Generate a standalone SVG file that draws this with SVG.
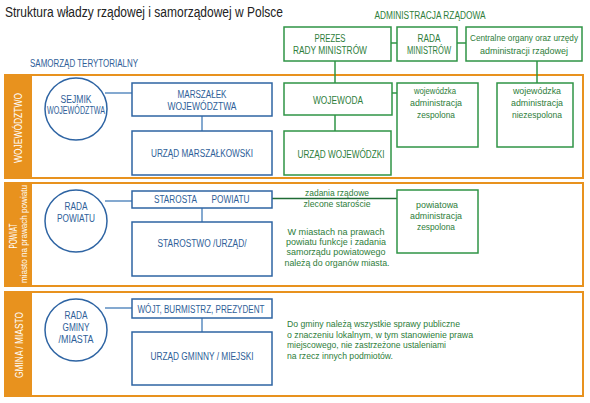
<svg xmlns="http://www.w3.org/2000/svg" width="590" height="403" viewBox="0 0 590 403">
<style>
text{font-family:"Liberation Sans",Arial,sans-serif}
.sec{fill:#fff;stroke:#E8921E;stroke-width:2}
.strip{fill:#E8921E}
.side{fill:#fff;font-size:10px;text-anchor:middle}
.sideS{fill:#fff;font-size:8.5px;text-anchor:middle}
.bb{fill:#fff;stroke:#2E64A3;stroke-width:1.5}
.gb{fill:#fff;stroke:#2F9446;stroke-width:1.5}
.bt{fill:#2E5E98;font-size:10px;text-anchor:middle}
.gt{fill:#2E7D3A;font-size:10px;text-anchor:middle}
.gs{fill:#2E7D3A;font-size:9.5px;text-anchor:middle}
.gl{fill:#2E7D3A;font-size:9.5px}
.bc{stroke:#5B8CC0;stroke-width:1.5;fill:none}
.gc{stroke:#2F9446;stroke-width:1.5;fill:none}
</style>
<rect width="590" height="403" fill="#fff"/>
<text x="5" y="17" font-size="14" fill="#222" textLength="278" lengthAdjust="spacingAndGlyphs">Struktura władzy rządowej i samorządowej w Polsce</text>
<text x="30" y="67" font-size="10" fill="#2E5E98" textLength="108" lengthAdjust="spacingAndGlyphs">SAMORZĄD TERYTORIALNY</text>
<text x="430" y="19" class="gt" textLength="111" lengthAdjust="spacingAndGlyphs">ADMINISTRACJA RZĄDOWA</text>

<g id="section-wojewodztwo">
<rect class="sec" x="5" y="75" width="578" height="103"/>
<rect class="strip" x="5" y="75" width="27" height="103"/>
<text class="side" transform="translate(22,128) rotate(-90)" textLength="70" lengthAdjust="spacingAndGlyphs">WOJEWÓDZTWO</text>
</g>
<g id="section-powiat">
<rect class="sec" x="5" y="183" width="578" height="103"/>
<rect class="strip" x="5" y="183" width="27" height="103"/>
<text class="side" transform="translate(17,236) rotate(-90)" textLength="25" lengthAdjust="spacingAndGlyphs">POWIAT</text>
<text class="sideS" transform="translate(27,234) rotate(-90)" textLength="98" lengthAdjust="spacingAndGlyphs">miasto na prawach powiatu</text>
</g>
<g id="section-gmina">
<rect class="sec" x="5" y="292" width="578" height="104"/>
<rect class="strip" x="5" y="292" width="27" height="104"/>
<text class="side" transform="translate(23,345) rotate(-90)" textLength="66" lengthAdjust="spacingAndGlyphs">GMINA / MIASTO</text>
</g>

<g id="connectors">
<line class="bc" x1="105" y1="93" x2="132" y2="93"/>
<line class="bc" x1="202" y1="116" x2="202" y2="131"/>
<line class="bc" x1="105" y1="201" x2="132" y2="201"/>
<line class="bc" x1="202" y1="208" x2="202" y2="222"/>
<line class="bc" x1="105" y1="308" x2="132" y2="308"/>
<line class="bc" x1="202" y1="318" x2="202" y2="332"/>
<line class="gc" x1="391" y1="43" x2="397" y2="43"/>
<line class="gc" x1="457" y1="43" x2="466" y2="43"/>
<line class="gc" x1="335" y1="61" x2="335" y2="83"/>
<line class="gc" x1="537" y1="61" x2="537" y2="83"/>
<line class="gc" x1="392" y1="93" x2="397" y2="93"/>
<line class="gc" x1="335" y1="115" x2="335" y2="131"/>
<line x1="272" y1="198.5" x2="397" y2="198.5" stroke="#1F6B34" stroke-width="1.5"/>
</g>

<g id="sejmik"><circle cx="76" cy="109" r="31" class="bb"/>
<text class="bt" x="76" y="103" textLength="31" lengthAdjust="spacingAndGlyphs">SEJMIK</text><text class="bt" x="76" y="114" textLength="58" lengthAdjust="spacingAndGlyphs">WOJEWÓDZTWA</text></g>
<g id="marszalek"><rect class="bb" x="132" y="83" width="140" height="33"/>
<text class="bt" x="202" y="98" textLength="49" lengthAdjust="spacingAndGlyphs">MARSZAŁEK</text><text class="bt" x="202" y="110" textLength="69" lengthAdjust="spacingAndGlyphs">WOJEWÓDZTWA</text></g>
<g id="urzad-marszalkowski"><rect class="bb" x="132" y="131" width="140" height="44"/>
<text class="bt" x="202" y="157" textLength="102" lengthAdjust="spacingAndGlyphs">URZĄD MARSZAŁKOWSKI</text></g>

<g id="prezes"><rect class="gb" x="284" y="27" width="107" height="34"/>
<text class="gt" x="330" y="41.5" textLength="31" lengthAdjust="spacingAndGlyphs">PREZES</text><text class="gt" x="330" y="54" textLength="74" lengthAdjust="spacingAndGlyphs">RADY MINISTRÓW</text></g>
<g id="rada-ministrow"><rect class="gb" x="397" y="27" width="60" height="34"/>
<text class="gt" x="429" y="41.5" textLength="23" lengthAdjust="spacingAndGlyphs">RADA</text><text class="gt" x="429" y="54" textLength="44" lengthAdjust="spacingAndGlyphs">MINISTRÓW</text></g>
<g id="centralne"><rect class="gb" x="466" y="27" width="116" height="34"/>
<text class="gs" x="524" y="41" font-size="8.5" textLength="108" lengthAdjust="spacingAndGlyphs">Centralne organy oraz urzędy</text><text class="gs" x="524" y="54" textLength="88" lengthAdjust="spacingAndGlyphs">administracji rządowej</text></g>
<g id="wojewoda"><rect class="gb" x="284" y="83" width="108" height="32"/>
<text class="gt" x="338" y="103.5" textLength="50" lengthAdjust="spacingAndGlyphs">WOJEWODA</text></g>
<g id="urzad-wojewodzki"><rect class="gb" x="284" y="131" width="107" height="44"/>
<text class="gt" x="341" y="157.5" textLength="87" lengthAdjust="spacingAndGlyphs">URZĄD WOJEWÓDZKI</text></g>
<g id="woj-zespolona"><rect class="gb" x="397" y="83" width="81" height="64"/>
<text class="gs" x="435" y="94" textLength="42" lengthAdjust="spacingAndGlyphs">wojewódzka</text><text class="gs" x="436" y="106" textLength="52" lengthAdjust="spacingAndGlyphs">administracja</text><text class="gs" x="436" y="118" textLength="38" lengthAdjust="spacingAndGlyphs">zespolona</text></g>
<g id="woj-niezespolona"><rect class="gb" x="497" y="83" width="76" height="64"/>
<text class="gs" x="537" y="94" textLength="48" lengthAdjust="spacingAndGlyphs">wojewódzka</text><text class="gs" x="537" y="106" textLength="52" lengthAdjust="spacingAndGlyphs">administracja</text><text class="gs" x="537" y="118" textLength="50" lengthAdjust="spacingAndGlyphs">niezespolona</text></g>

<g id="rada-powiatu"><circle cx="76" cy="221" r="31" class="bb"/>
<text class="bt" x="76" y="210" textLength="23" lengthAdjust="spacingAndGlyphs">RADA</text><text class="bt" x="76" y="222" textLength="38" lengthAdjust="spacingAndGlyphs">POWIATU</text></g>
<g id="starosta"><rect class="bb" x="132" y="191" width="140" height="17"/>
<text class="bt" x="175.5" y="203" textLength="43" lengthAdjust="spacingAndGlyphs">STAROSTA</text><text class="bt" x="230.5" y="203" textLength="38" lengthAdjust="spacingAndGlyphs">POWIATU</text></g>
<g id="starostwo"><rect class="bb" x="132" y="222" width="140" height="54"/>
<text class="bt" x="202" y="247" textLength="89" lengthAdjust="spacingAndGlyphs">STAROSTWO /URZĄD/</text></g>
<g id="zadania"><text class="gs" x="337" y="196" textLength="64" lengthAdjust="spacingAndGlyphs">zadania rządowe</text><text class="gs" x="337" y="207" textLength="67" lengthAdjust="spacingAndGlyphs">zlecone staroście</text></g>
<g id="powiatowa"><rect class="gb" x="397" y="190" width="81" height="63"/>
<text class="gs" x="437" y="207.5" textLength="42" lengthAdjust="spacingAndGlyphs">powiatowa</text><text class="gs" x="436" y="218.5" textLength="52" lengthAdjust="spacingAndGlyphs">administracja</text><text class="gs" x="436" y="230" textLength="38" lengthAdjust="spacingAndGlyphs">zespolona</text></g>
<g id="miasta-note"><text class="gs" x="336" y="235" textLength="97" lengthAdjust="spacingAndGlyphs">W miastach na prawach</text><text class="gs" x="336" y="245" textLength="100" lengthAdjust="spacingAndGlyphs">powiatu funkcje i zadania</text><text class="gs" x="336" y="255" textLength="99" lengthAdjust="spacingAndGlyphs">samorządu powiatowego</text><text class="gs" x="337" y="265.5" textLength="105" lengthAdjust="spacingAndGlyphs">należą do organów miasta.</text></g>

<g id="rada-gminy"><circle cx="76" cy="330" r="31" class="bb"/>
<text class="bt" x="76" y="319" textLength="23" lengthAdjust="spacingAndGlyphs">RADA</text><text class="bt" x="76" y="331" textLength="27" lengthAdjust="spacingAndGlyphs">GMINY</text><text class="bt" x="76" y="343" textLength="35" lengthAdjust="spacingAndGlyphs">/MIASTA</text></g>
<g id="wojt"><rect class="bb" x="132" y="299" width="140" height="19"/>
<text class="bt" x="201" y="312.5" textLength="127" lengthAdjust="spacingAndGlyphs">WÓJT, BURMISTRZ, PREZYDENT</text></g>
<g id="urzad-gminny"><rect class="bb" x="132" y="332" width="140" height="53"/>
<text class="bt" x="202" y="360" textLength="103" lengthAdjust="spacingAndGlyphs">URZĄD GMINNY / MIEJSKI</text></g>
<g id="gmina-note"><text class="gl" x="287" y="327" textLength="173" lengthAdjust="spacingAndGlyphs">Do gminy należą wszystkie sprawy publiczne</text><text class="gl" x="287" y="337.5" textLength="186" lengthAdjust="spacingAndGlyphs">o znaczeniu lokalnym, w tym stanowienie prawa</text><text class="gl" x="287" y="348" textLength="159" lengthAdjust="spacingAndGlyphs">miejscowego, nie zastrzeżone ustaleniami</text><text class="gl" x="287" y="358.5" textLength="106" lengthAdjust="spacingAndGlyphs">na rzecz innych podmiotów.</text></g>
</svg>
